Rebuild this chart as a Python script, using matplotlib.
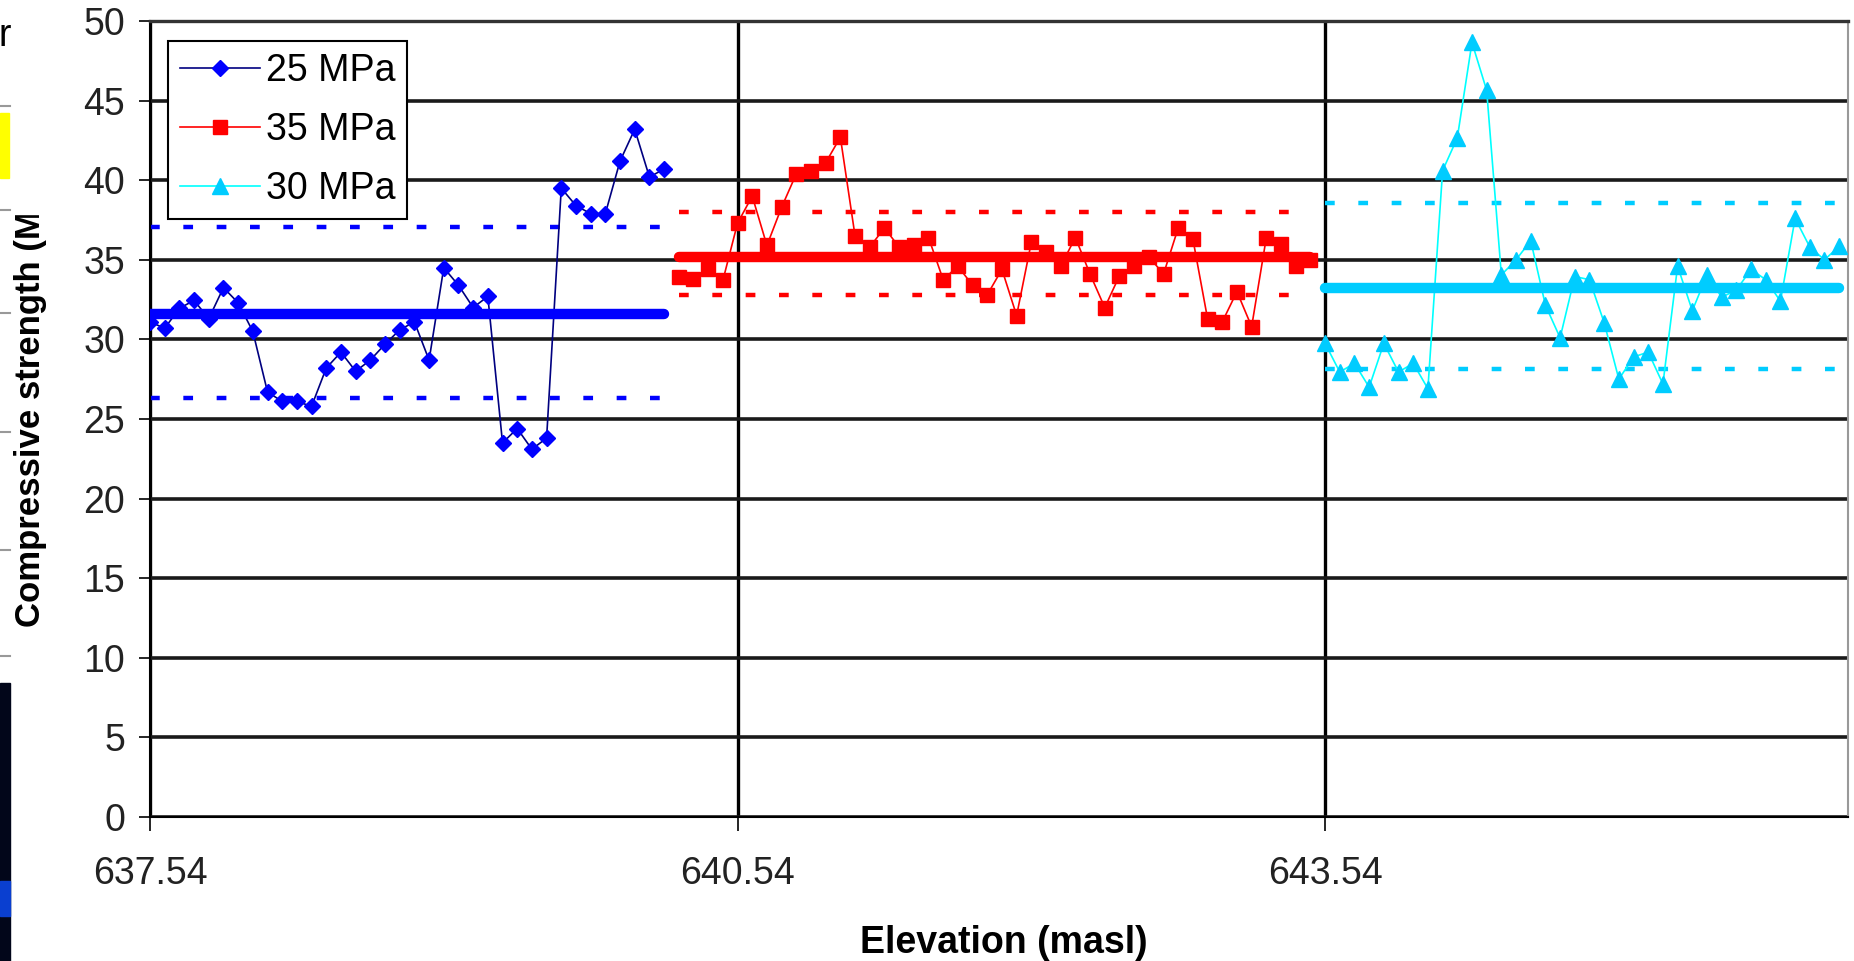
import numpy as np
import matplotlib
matplotlib.use('Agg')
import matplotlib.pyplot as plt
from matplotlib import font_manager
from matplotlib.patches import Rectangle
from matplotlib.lines import Line2D

# compressive strength (MPa), one value per placement
mpa25 = [31.1, 30.7, 31.95, 32.45, 31.3, 33.25, 32.3, 30.5, 26.7, 26.1, 26.1, 25.8,
         28.2, 29.2, 28.0, 28.7, 29.7, 30.6, 31.1, 28.7, 34.5, 33.4, 32.0, 32.7,
         23.5, 24.4, 23.1, 23.8, 39.5, 38.4, 37.9, 37.9, 41.2, 43.2, 40.2, 40.7]
mpa35 = [33.95, 33.8, 34.4, 33.7, 37.3, 39.0, 35.9, 38.3, 40.4, 40.6,
         41.1, 42.7, 36.5, 35.8, 37.0, 35.8, 35.9, 36.4, 33.75, 34.6,
         33.4, 32.8, 34.4, 31.5, 36.1, 35.5, 34.6, 36.4, 34.1, 32.0,
         34.0, 34.6, 35.2, 34.1, 37.0, 36.3, 31.3, 31.1, 33.0, 30.8,
         36.4, 36.0, 34.6, 35.0]
mpa30 = [29.75, 27.95, 28.5, 27.0, 29.75, 27.95, 28.5, 26.9, 40.6, 42.65,
         48.65, 45.65, 34.05, 35.0, 36.2, 32.15, 30.1, 33.95, 33.75, 31.05,
         27.5, 28.9, 29.2, 27.2, 34.6, 31.8, 34.05, 32.65, 33.1, 34.4,
         33.75, 32.4, 37.6, 35.8, 35.0, 35.85]

# mean, upper and lower limit of each block
lim25 = [31.6, 37.05, 26.3]
lim35 = [35.2, 38.0, 32.8]
lim30 = [33.25, 38.55, 28.15]

labels = ['25 MPa', '35 MPa', '30 MPa']
elev_labels = ['637.54', '640.54', '643.54']
label_every = 40  # categories between elevation labels

fnames = {f.name for f in font_manager.fontManager.ttflist}
family = 'Liberation Sans Narrow' if 'Liberation Sans Narrow' in fnames else 'Liberation Sans'
plt.rcParams['font.family'] = [family, 'DejaVu Sans']
plt.rcParams['lines.scale_dashes'] = False
fs = 31 if family.endswith('Narrow') else 27

W, H = 1854, 961
fig = plt.figure(figsize=(W / 100, H / 100), dpi=100)
ax = fig.add_axes([150 / W, 144 / H, 1698 / W, 796 / H])

styles = [('D', '#0000ff', '#000080', 8.5),
          ('s', '#ff0000', '#ff0000', 10.5),
          ('^', '#00ccff', '#00ffff', 11.5)]

start = 0
for vals, lims, lab, (mk, mc, lc, ms) in zip([mpa25, mpa35, mpa30], [lim25, lim35, lim30], labels, styles):
    x = np.arange(start, start + len(vals))
    ax.plot(x, vals, color=lc, lw=1.2, marker=mk, ms=ms, mfc=mc, mec=mc, label=lab, zorder=3)
    ax.plot([x[0], x[-1]], [lims[0], lims[0]], color=mc, lw=7.5, solid_capstyle='round', zorder=4)
    for v in lims[1:]:
        ax.plot([x[0], x[-1]], [v, v], color=mc, lw=3.2, dashes=(7, 17), zorder=2)
    start += len(vals)

ax.set_xlim(0, 115.6)
ax.set_ylim(0, 50)
ax.set_yticks(np.arange(0, 51, 5))
ax.set_xticks(np.arange(len(elev_labels)) * label_every)
ax.set_xticklabels(elev_labels)
ax.tick_params(axis='y', length=8, width=1.2, pad=10, labelsize=fs, labelcolor='#222222')
ax.tick_params(axis='x', length=10, width=1.2, pad=18, labelsize=fs, labelcolor='#222222')
ax.grid(True, axis='y', color='#1a1a1a', lw=2.6)
ax.grid(True, axis='x', color='black', lw=2.4)
ax.set_axisbelow(True)
ax.spines['left'].set_linewidth(1.5)
ax.spines['bottom'].set_linewidth(1.5)
ax.spines['top'].set_color('#333333')
ax.spines['top'].set_linewidth(2.4)
ax.spines['right'].set_color('#999999')
ax.spines['right'].set_linewidth(1.5)

leg = ax.legend(loc='upper left', bbox_to_anchor=(0.0106, 0.975), fontsize=fs,
                frameon=True, fancybox=False, edgecolor='black', framealpha=1,
                handlelength=2.13, handletextpad=0.16, labelspacing=0.62,
                borderpad=0.32, borderaxespad=0)
leg.get_frame().set_linewidth(1.5)

ax.set_xlabel('Elevation (masl)', fontsize=fs, fontweight='bold')
ax.xaxis.set_label_coords(0.503, -0.158)
ax.xaxis.label.set_va('center')

fig.text(31 / W, 1 - 627 / H, 'Compressive strength (MPa)', rotation=90,
         ha='center', va='bottom', fontsize=25, fontweight='bold')
# the top of the axis title is hidden in the source picture
fig.add_artist(Rectangle((12 / W, 1 - 214 / H), 50 / W, 214 / H,
                         transform=fig.transFigure, color='white', zorder=10))

# strip of a neighbouring slide on the left edge
fig.add_artist(Rectangle((0, 0), 10 / W, (H - 683) / H, transform=fig.transFigure,
                         color='#02061a', zorder=11))
fig.add_artist(Rectangle((0, 45 / H), 10 / W, 35 / H, transform=fig.transFigure,
                         color='#0a3fd0', zorder=11))
fig.add_artist(Rectangle((0, 1 - 178 / H), 9 / W, 65 / H, transform=fig.transFigure,
                         color='#ffff00', zorder=11))
for yy in [106, 210, 313, 432, 550, 656]:
    fig.add_artist(Line2D([0, 10 / W], [1 - yy / H] * 2, transform=fig.transFigure,
                          color='#999999', lw=1.5, zorder=11))
fig.text(-2 / W, 1 - 36 / H, 'r', fontsize=fs, va='center', ha='left', zorder=11)

fig.savefig('out.png', dpi=100)
